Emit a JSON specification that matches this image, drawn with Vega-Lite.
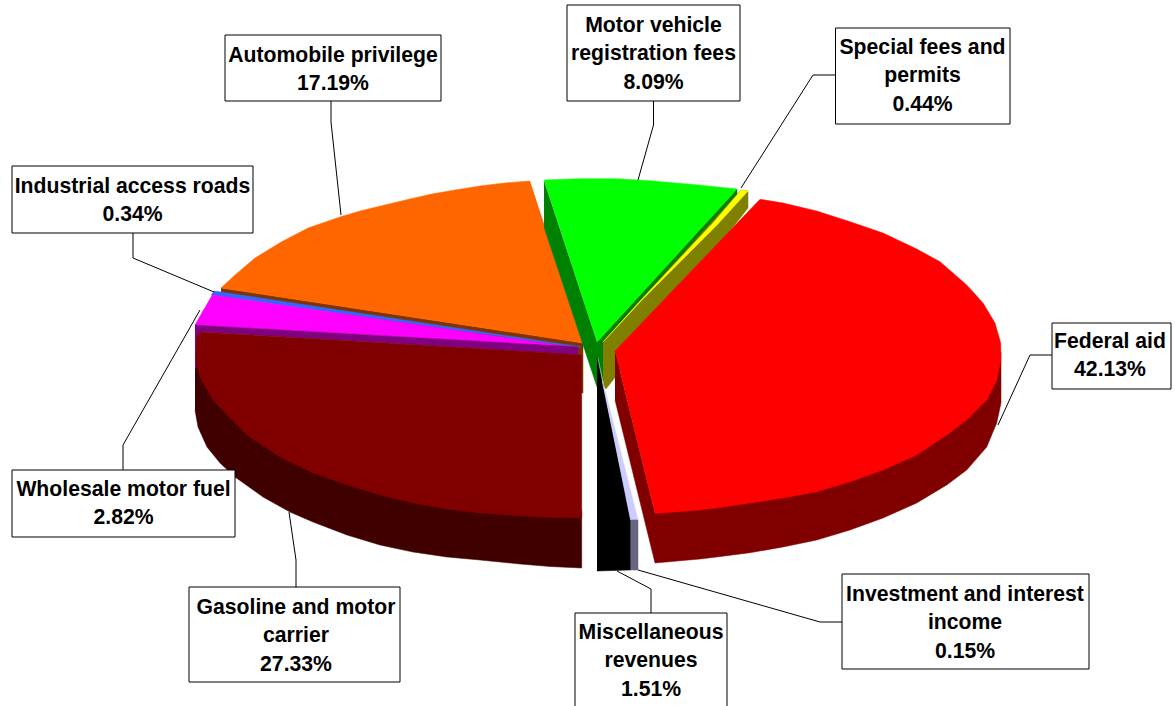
{"$schema":"https://vega.github.io/schema/vega-lite/v6.json","width":1175,"height":706,"padding":0,"autosize":"none","background":"white","view":{"stroke":null},
"datasets":{
"shapes":[
{"p":"gasSide","s":1,"x":195,"y":355},{"p":"gasSide","s":2,"x":581.7,"y":510},{"p":"gasSide","s":3,"x":581.7,"y":568},{"p":"gasSide","s":4,"x":550,"y":566.5},{"p":"gasSide","s":5,"x":520,"y":564},{"p":"gasSide","s":6,"x":480,"y":560},{"p":"gasSide","s":7,"x":447,"y":557},{"p":"gasSide","s":8,"x":413,"y":552},{"p":"gasSide","s":9,"x":380,"y":545},{"p":"gasSide","s":10,"x":347,"y":535},{"p":"gasSide","s":11,"x":313,"y":522},{"p":"gasSide","s":12,"x":290,"y":512},{"p":"gasSide","s":13,"x":263,"y":497},{"p":"gasSide","s":14,"x":235,"y":477},{"p":"gasSide","s":15,"x":220,"y":463},{"p":"gasSide","s":16,"x":207,"y":447},{"p":"gasSide","s":17,"x":198,"y":427},{"p":"gasSide","s":18,"x":195,"y":410},
{"p":"orangeSide","s":1,"x":221,"y":288},{"p":"orangeSide","s":2,"x":583,"y":343},{"p":"orangeSide","s":3,"x":583,"y":393},{"p":"orangeSide","s":4,"x":575,"y":393},{"p":"orangeSide","s":5,"x":575,"y":352},{"p":"orangeSide","s":6,"x":221,"y":294},
{"p":"orangeTop","s":1,"x":530,"y":181},{"p":"orangeTop","s":2,"x":505,"y":183},{"p":"orangeTop","s":3,"x":481.7,"y":185.7},{"p":"orangeTop","s":4,"x":456.7,"y":189.7},{"p":"orangeTop","s":5,"x":431.7,"y":194},{"p":"orangeTop","s":6,"x":406.7,"y":199.7},{"p":"orangeTop","s":7,"x":381.7,"y":205.7},{"p":"orangeTop","s":8,"x":360,"y":211},{"p":"orangeTop","s":9,"x":340.7,"y":216.7},{"p":"orangeTop","s":10,"x":308,"y":228},{"p":"orangeTop","s":11,"x":281.7,"y":241.7},{"p":"orangeTop","s":12,"x":255,"y":258},{"p":"orangeTop","s":13,"x":235,"y":275},{"p":"orangeTop","s":14,"x":221,"y":288},{"p":"orangeTop","s":15,"x":583,"y":343},
{"p":"blue","s":1,"x":214,"y":291},{"p":"blue","s":2,"x":221,"y":292},{"p":"blue","s":3,"x":581,"y":347},{"p":"blue","s":4,"x":575,"y":347},{"p":"blue","s":5,"x":211,"y":295},
{"p":"magenta","s":1,"x":212,"y":295},{"p":"magenta","s":2,"x":578,"y":348},{"p":"magenta","s":3,"x":540,"y":345},{"p":"magenta","s":4,"x":370,"y":335},{"p":"magenta","s":5,"x":195,"y":325},{"p":"magenta","s":6,"x":204,"y":309},
{"p":"purple","s":1,"x":195,"y":325},{"p":"purple","s":2,"x":370,"y":335},{"p":"purple","s":3,"x":578,"y":347},{"p":"purple","s":4,"x":578,"y":355},{"p":"purple","s":5,"x":370,"y":342},{"p":"purple","s":6,"x":201,"y":332},{"p":"purple","s":7,"x":197,"y":345},{"p":"purple","s":8,"x":196,"y":368},{"p":"purple","s":9,"x":195,"y":368},
{"p":"gasTop","s":1,"x":201,"y":332},{"p":"gasTop","s":2,"x":370,"y":342},{"p":"gasTop","s":3,"x":581.7,"y":355},{"p":"gasTop","s":4,"x":581.7,"y":518},{"p":"gasTop","s":5,"x":550,"y":517.5},{"p":"gasTop","s":6,"x":520,"y":516},{"p":"gasTop","s":7,"x":480,"y":513},{"p":"gasTop","s":8,"x":447,"y":509},{"p":"gasTop","s":9,"x":413,"y":503},{"p":"gasTop","s":10,"x":380,"y":495},{"p":"gasTop","s":11,"x":347,"y":485},{"p":"gasTop","s":12,"x":313,"y":473},{"p":"gasTop","s":13,"x":280,"y":457},{"p":"gasTop","s":14,"x":247,"y":435},{"p":"gasTop","s":15,"x":230,"y":418},{"p":"gasTop","s":16,"x":213,"y":400},{"p":"gasTop","s":17,"x":200,"y":377},{"p":"gasTop","s":18,"x":195.5,"y":360},{"p":"gasTop","s":19,"x":197,"y":336},
{"p":"greenSide","s":1,"x":544,"y":181},{"p":"greenSide","s":2,"x":597,"y":342},{"p":"greenSide","s":3,"x":737,"y":189},{"p":"greenSide","s":4,"x":737,"y":197},{"p":"greenSide","s":5,"x":603,"y":345},{"p":"greenSide","s":6,"x":603,"y":380},{"p":"greenSide","s":7,"x":597,"y":387},{"p":"greenSide","s":8,"x":544,"y":227},
{"p":"greenTop","s":1,"x":544,"y":180},{"p":"greenTop","s":2,"x":580,"y":178.7},{"p":"greenTop","s":3,"x":617,"y":178.7},{"p":"greenTop","s":4,"x":653,"y":181},{"p":"greenTop","s":5,"x":693,"y":184.5},{"p":"greenTop","s":6,"x":737,"y":189},{"p":"greenTop","s":7,"x":597,"y":342},
{"p":"olive","s":1,"x":603,"y":342},{"p":"olive","s":2,"x":741,"y":190},{"p":"olive","s":3,"x":748,"y":191},{"p":"olive","s":4,"x":748,"y":208},{"p":"olive","s":5,"x":606,"y":389},{"p":"olive","s":6,"x":603,"y":385},
{"p":"yellow","s":1,"x":741,"y":190},{"p":"yellow","s":2,"x":748,"y":191},{"p":"yellow","s":3,"x":717,"y":225},{"p":"yellow","s":4,"x":642,"y":300},{"p":"yellow","s":5,"x":603,"y":342},{"p":"yellow","s":6,"x":641,"y":300},{"p":"yellow","s":7,"x":711,"y":225},
{"p":"black","s":1,"x":597,"y":358},{"p":"black","s":2,"x":630.7,"y":520},{"p":"black","s":3,"x":630.7,"y":570},{"p":"black","s":4,"x":597,"y":571},
{"p":"lavender","s":1,"x":598,"y":358},{"p":"lavender","s":2,"x":630.5,"y":520},{"p":"lavender","s":3,"x":638,"y":520},{"p":"lavender","s":4,"x":605,"y":390},
{"p":"grayside","s":1,"x":630.7,"y":520},{"p":"grayside","s":2,"x":638,"y":520},{"p":"grayside","s":3,"x":638,"y":570},{"p":"grayside","s":4,"x":630.7,"y":570},
{"p":"redSide","s":1,"x":615,"y":351},{"p":"redSide","s":2,"x":655,"y":513},{"p":"redSide","s":3,"x":1001,"y":352},{"p":"redSide","s":4,"x":1001,"y":403},{"p":"redSide","s":5,"x":996.7,"y":423},{"p":"redSide","s":6,"x":986.7,"y":447},{"p":"redSide","s":7,"x":966.7,"y":470},{"p":"redSide","s":8,"x":946.7,"y":485},{"p":"redSide","s":9,"x":916.7,"y":503},{"p":"redSide","s":10,"x":883,"y":518},{"p":"redSide","s":11,"x":850,"y":530},{"p":"redSide","s":12,"x":816.7,"y":540},{"p":"redSide","s":13,"x":783,"y":547},{"p":"redSide","s":14,"x":750,"y":552.7},{"p":"redSide","s":15,"x":716.7,"y":557},{"p":"redSide","s":16,"x":700,"y":559},{"p":"redSide","s":17,"x":655,"y":563},{"p":"redSide","s":18,"x":615,"y":400},
{"p":"redTop","s":1,"x":615,"y":351},{"p":"redTop","s":2,"x":760,"y":199.3},{"p":"redTop","s":3,"x":783,"y":203},{"p":"redTop","s":4,"x":816.7,"y":211},{"p":"redTop","s":5,"x":850,"y":221.7},{"p":"redTop","s":6,"x":883,"y":233},{"p":"redTop","s":7,"x":916.7,"y":249},{"p":"redTop","s":8,"x":940,"y":261.7},{"p":"redTop","s":9,"x":966.7,"y":285},{"p":"redTop","s":10,"x":983,"y":303},{"p":"redTop","s":11,"x":995,"y":323},{"p":"redTop","s":12,"x":1000.7,"y":343},{"p":"redTop","s":13,"x":1001,"y":360},{"p":"redTop","s":14,"x":996.7,"y":380},{"p":"redTop","s":15,"x":986.7,"y":400},{"p":"redTop","s":16,"x":966.7,"y":420},{"p":"redTop","s":17,"x":946.7,"y":435},{"p":"redTop","s":18,"x":916.7,"y":455},{"p":"redTop","s":19,"x":883,"y":470},{"p":"redTop","s":20,"x":850,"y":481.7},{"p":"redTop","s":21,"x":816.7,"y":491.7},{"p":"redTop","s":22,"x":783,"y":498},{"p":"redTop","s":23,"x":750,"y":503},{"p":"redTop","s":24,"x":716.7,"y":508},{"p":"redTop","s":25,"x":700,"y":510},{"p":"redTop","s":26,"x":655,"y":513.5}
],
"leaders":[
{"l":"Motor","s":1,"x":653.5,"y":101},{"l":"Motor","s":2,"x":653.5,"y":125},{"l":"Motor","s":3,"x":638,"y":180},
{"l":"Special","s":1,"x":835,"y":75},{"l":"Special","s":2,"x":813,"y":75},{"l":"Special","s":3,"x":741,"y":188},
{"l":"Auto","s":1,"x":331,"y":101},{"l":"Auto","s":2,"x":331,"y":122},{"l":"Auto","s":3,"x":341,"y":215},
{"l":"Industrial","s":1,"x":133,"y":233},{"l":"Industrial","s":2,"x":133,"y":258},{"l":"Industrial","s":3,"x":214,"y":292},
{"l":"Federal","s":1,"x":1052,"y":355},{"l":"Federal","s":2,"x":1030,"y":355},{"l":"Federal","s":3,"x":998,"y":425},
{"l":"Wholesale","s":1,"x":123,"y":470},{"l":"Wholesale","s":2,"x":123,"y":445},{"l":"Wholesale","s":3,"x":200,"y":310},
{"l":"Gasoline","s":1,"x":296,"y":587},{"l":"Gasoline","s":2,"x":296,"y":560},{"l":"Gasoline","s":3,"x":289,"y":512},
{"l":"Misc","s":1,"x":651,"y":613},{"l":"Misc","s":2,"x":651,"y":589},{"l":"Misc","s":3,"x":617,"y":571},
{"l":"Invest","s":1,"x":842,"y":622},{"l":"Invest","s":2,"x":820,"y":622},{"l":"Invest","s":3,"x":638,"y":570}
],
"labels":[
{"t":"Motor vehicle\nregistration fees\n8.09%","x":567,"x2":740,"y":5,"y2":101,"cx":653.5,"cy":25.5},
{"t":"Special fees and\npermits\n0.44%","x":835.5,"x2":1010,"y":28,"y2":124,"cx":922.5,"cy":47.5},
{"t":"Automobile privilege\n17.19%","x":225,"x2":441,"y":35,"y2":101,"cx":333,"cy":55.5},
{"t":"Industrial access roads\n0.34%","x":12,"x2":253,"y":166,"y2":233,"cx":132.5,"cy":186.5},
{"t":"Federal aid\n42.13%","x":1052,"x2":1171,"y":323,"y2":389,"cx":1110,"cy":341.5},
{"t":"Wholesale motor fuel\n2.82%","x":12,"x2":235,"y":470,"y2":537,"cx":123.5,"cy":489.5},
{"t":"Gasoline and motor\ncarrier\n27.33%","x":189,"x2":400,"y":587,"y2":682,"cx":296,"cy":607.5},
{"t":"Miscellaneous\nrevenues\n1.51%","x":575,"x2":727,"y":613,"y2":715,"cx":651,"cy":632.5},
{"t":"Investment and interest\nincome\n0.15%","x":842,"x2":1089,"y":574,"y2":669,"cx":965,"cy":594.5}
]},
"layer":[
{"data":{"name":"shapes"},"mark":{"type":"line","strokeWidth":0.5,"interpolate":"linear"},
"encoding":{"x":{"field":"x","type":"quantitative","scale":{"domain":[0,1175]},"axis":null},"y":{"field":"y","type":"quantitative","scale":{"domain":[706,0]},"axis":null},"order":{"field":"s","type":"quantitative"},"detail":{"field":"p"},
"fill":{"field":"p","type":"nominal","legend":null,"scale":{"domain":["gasSide","orangeSide","orangeTop","blue","magenta","purple","gasTop","greenSide","greenTop","olive","yellow","black","lavender","grayside","redSide","redTop"],"range":["#400000","#803300","#ff6600","#3366ff","#ff00ff","#800080","#800000","#008000","#00ff00","#808000","#ffff00","#000000","#ccccff","#666680","#800000","#ff0000"]}},
"stroke":{"field":"p","type":"nominal","legend":null,"scale":{"domain":["gasSide","orangeSide","orangeTop","blue","magenta","purple","gasTop","greenSide","greenTop","olive","yellow","black","lavender","grayside","redSide","redTop"],"range":["#400000","#803300","#ff6600","#3366ff","#ff00ff","#800080","#800000","#008000","#00ff00","#808000","#ffff00","#000000","#ccccff","#666680","#800000","#ff0000"]}}}},
{"data":{"name":"leaders"},"mark":{"type":"line","color":"#000000","strokeWidth":1},
"encoding":{"x":{"field":"x","type":"quantitative","scale":{"domain":[0,1175]},"axis":null},"y":{"field":"y","type":"quantitative","scale":{"domain":[706,0]},"axis":null},"order":{"field":"s","type":"quantitative"},"detail":{"field":"l"}}},
{"data":{"name":"labels"},"mark":{"type":"rect","fill":"#ffffff","stroke":"#000000","strokeWidth":1,"clip":true},
"encoding":{"x":{"field":"x","type":"quantitative","scale":{"domain":[0,1175]},"axis":null},"x2":{"field":"x2"},"y":{"field":"y","type":"quantitative","scale":{"domain":[706,0]},"axis":null},"y2":{"field":"y2"}}},
{"data":{"name":"labels"},"mark":{"type":"text","font":"Liberation Sans","fontWeight":"bold","fontSize":21.2,"lineBreak":"\n","lineHeight":28.5,"align":"center","baseline":"middle","color":"#000000"},
"encoding":{"x":{"field":"cx","type":"quantitative","scale":{"domain":[0,1175]},"axis":null},"y":{"field":"cy","type":"quantitative","scale":{"domain":[706,0]},"axis":null},"text":{"field":"t"}}}
]}
